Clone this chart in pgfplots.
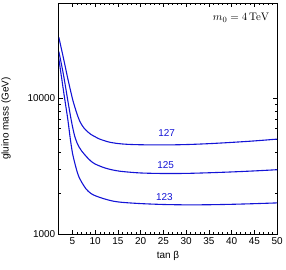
\documentclass[border=0pt]{standalone}
\usepackage{pgfplots}
\pgfplotsset{compat=1.18}
\usepackage[no-math]{fontspec}
\setmainfont{Liberation Sans}
\definecolor{cblue}{rgb}{0.08,0.08,0.84}
\begin{document}
\begin{tikzpicture}
\begin{axis}[
  name=ax,
  scale only axis,
  width=219pt, height=232pt,
  xmin=2, xmax=50,
  ymode=log, ymin=1000, ymax=50000,
  xtick={5,10,...,50},
  minor x tick num=4,
  ytick={1000,10000},
  yticklabels={1000,10000},
  tick align=inside,
  major tick length=4pt,
  minor tick length=2pt,
  tick style={black, line width=0.5pt},
  axis line style={line width=0.8pt},
  ticklabel style={font=\fontsize{10}{11}\selectfont},
  /pgf/number format/assume math mode=true,
  xlabel={tan β},
  ylabel={gluino mass (GeV)},
  label style={font=\fontsize{10}{11}\selectfont},
  xlabel style={at={(axis description cs:0.5,-0.095)}, anchor=center, inner sep=0pt},
  ylabel style={at={(axis description cs:-0.242,0.5)}, anchor=center, inner sep=0pt},
]
\addplot[cblue, line width=1.1pt, smooth] coordinates {(2,28000)(3,19800)(4,13800)(5,9900)(5.5,8650)(6,7650)(6.5,6900)(7,6400)(7.5,6050)(8,5800)(9,5430)(10,5200)(11,5000)(13,4760)(15,4640)(17,4580)(20,4545)(25,4530)(30,4560)(35,4630)(40,4730)(45,4850)(50,5000)};
\addplot[cblue, line width=1.1pt, smooth] coordinates {(2,22000)(3,15000)(4,9500)(4.5,7600)(5,6200)(5.5,5250)(6,4700)(6.5,4350)(7,4100)(8,3740)(9,3460)(10,3280)(12,3080)(14,2960)(16,2890)(20,2820)(25,2795)(30,2800)(35,2830)(40,2870)(45,2920)(50,2980)};
\addplot[cblue, line width=1.1pt, smooth] coordinates {(2,19500)(3,11500)(3.5,8900)(4,6900)(4.5,5100)(5,3950)(5.5,3350)(6,2900)(6.5,2600)(7,2420)(8,2150)(9,2000)(10,1920)(12,1820)(14,1750)(16,1715)(20,1680)(25,1655)(30,1645)(35,1648)(40,1660)(45,1678)(50,1700)};
\node[cblue, font=\fontsize{10}{11}\selectfont] at (axis cs:25.7,5550) {127};
\node[cblue, font=\fontsize{10}{11}\selectfont] at (axis cs:25.5,3240) {125};
\node[cblue, font=\fontsize{10}{11}\selectfont] at (axis cs:25.2,1862) {123};
\node[anchor=north east, font=\fontsize{11}{12}\selectfont] at (rel axis cs:0.98,0.97) {$m_0 = 4\,\mathrm{TeV}$};
\end{axis}
\path[use as bounding box] ([shift={(-59pt,-35pt)}]ax.south west) rectangle ([shift={(8pt,3pt)}]ax.north east);
\end{tikzpicture}
\end{document}
